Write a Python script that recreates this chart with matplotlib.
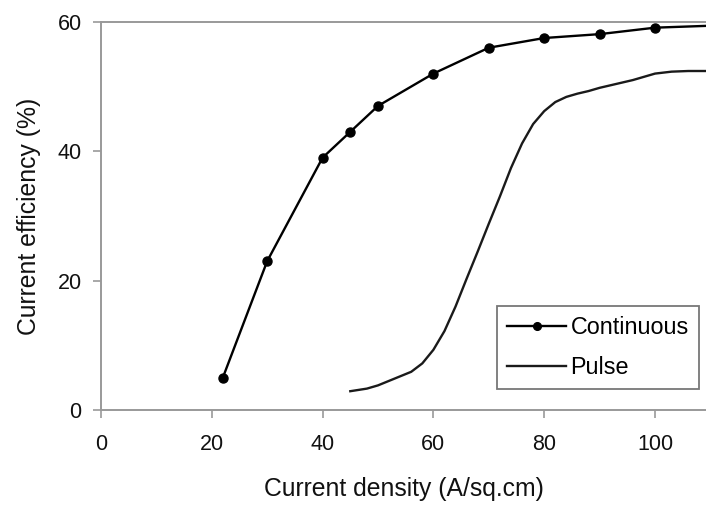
import matplotlib.pyplot as plt

# Continuous current: measured points (last value only continues the line)
cont_x = [22, 30, 40, 45, 50, 60, 70, 80, 90, 100, 110]
cont_y = [5, 23, 39, 43, 47, 52, 56, 57.5, 58.1, 59.1, 59.4]

# Pulse current: smooth curve
pulse_x = [45, 48, 50, 52, 54, 56, 58, 60, 62, 64, 66, 68, 70, 72, 74, 76,
           78, 80, 82, 84, 86, 88, 90, 92, 94, 96, 98, 100, 103, 106, 110]
pulse_y = [2.9, 3.3, 3.8, 4.5, 5.2, 5.9, 7.2, 9.3, 12.2, 16.0, 20.3, 24.5,
           28.8, 33.0, 37.4, 41.2, 44.2, 46.2, 47.6, 48.4, 48.9, 49.3, 49.8,
           50.2, 50.6, 51.0, 51.5, 52.0, 52.3, 52.4, 52.4]

x_ticks = [0, 20, 40, 60, 80, 100]
y_ticks = [0, 20, 40, 60]

plt.rcParams['font.family'] = ['Liberation Sans', 'DejaVu Sans']

fig = plt.figure(figsize=(7.06, 5.08), dpi=100)
ax = fig.add_axes([0.143, 0.193, 0.857, 0.764])

ax.plot(cont_x, cont_y, color='black', lw=1.7, marker='o', markersize=6.5,
        markevery=list(range(len(cont_x) - 1)), label='Continuous')
ax.plot(pulse_x, pulse_y, color='#1a1a1a', lw=1.7, label='Pulse')

ax.set_xlim(0, 109.2)
ax.set_ylim(0, 60)
ax.set_xticks(x_ticks)
ax.set_yticks(y_ticks)

for side in ['left', 'bottom', 'top']:
    ax.spines[side].set_color('#999999')
    ax.spines[side].set_linewidth(1.4)
ax.spines['right'].set_visible(False)
ax.tick_params(direction='out', length=6, width=1.2, color='#999999',
               labelsize=15.5, labelcolor='#111111')
ax.tick_params(axis='x', pad=11)
ax.tick_params(axis='y', pad=8)

ax.set_xlabel('Current density (A/sq.cm)', fontsize=17.8, color='#111111',
              labelpad=16)
ax.set_ylabel('Current efficiency (%)', fontsize=17.8, color='#111111',
              labelpad=12)

leg = ax.legend(loc='upper left', bbox_to_anchor=(0.6545, 0.268),
                borderaxespad=0, fontsize=16.8, frameon=True, fancybox=False,
                handlelength=2.5, handletextpad=0.2, labelspacing=0.7,
                borderpad=0.45, markerscale=0.85)
leg.get_frame().set_edgecolor('#555555')
leg.get_frame().set_linewidth(1.3)

fig.savefig('out.png', dpi=100)
